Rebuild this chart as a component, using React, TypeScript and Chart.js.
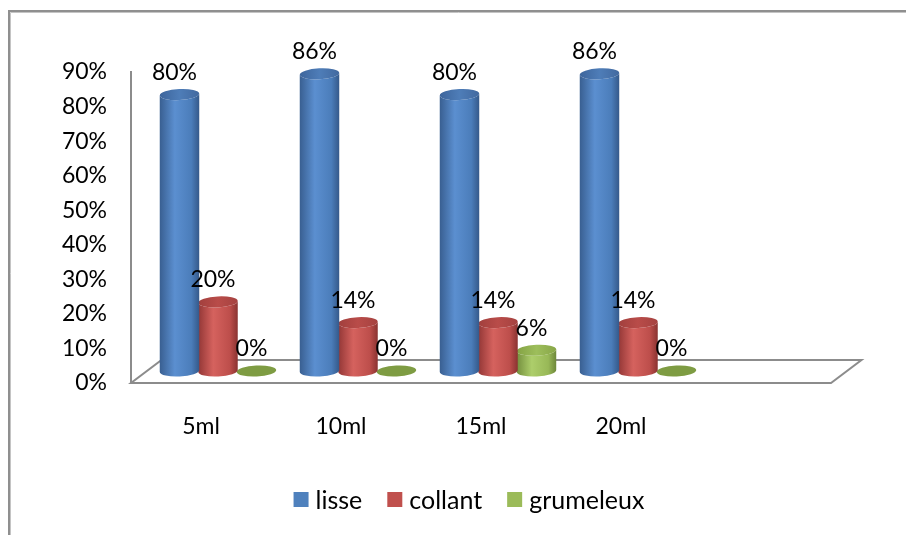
import { useEffect, useRef } from 'react';
import { Chart, registerables } from 'chart.js';

Chart.register(...registerables);

// Categories (the last, empty slot keeps the floor one step longer than the data)
const CATEGORIES = ['5ml', '10ml', '15ml', '20ml', ''];
const SERIES_NAMES = ['lisse', 'collant', 'grumeleux'];
const LISSE = [80, 86, 80, 86, null];
const COLLANT = [20, 14, 14, 14, null];
const GRUMELEUX = [0, 0, 6, 0, null];
const Y_MAX = 90;
const Y_STEP = 10;

const SERIES_COLORS = ['#4F81BD', '#C0504D', '#9BBB59'];

const FONT = 'Lato, "Open Sans", sans-serif';
const FLOOR_DEPTH = { x: 30.5, y: -23 };
const CYL_SHIFT = { x: 17, y: -12 };
const CYL_RY = 5.5;
const TILT = -0.05;

type Shade = { body: string[]; top: string[]; flat: string };
const SHADES: Shade[] = [
  { body: ['#395F91', '#5B8FD0', '#4B7DBA', '#35598A'], top: ['#3D659C', '#4E7DB8', '#42699F'], flat: '#3D659C' },
  { body: ['#933736', '#D5625E', '#BD4E4B', '#8A3331'], top: ['#A13F3D', '#B94C49', '#A54240'], flat: '#A13F3D' },
  { body: ['#748F3E', '#ADCE6B', '#98B857', '#6D873A'], top: ['#84A244', '#9DBE5B', '#88A648'], flat: '#7E9C43' },
];

function drawCylinder(ctx: CanvasRenderingContext2D, cx: number, topY: number, baseY: number, rx: number, shade: Shade) {
  if (baseY - topY < 0.5) {
    ctx.beginPath();
    ctx.ellipse(cx, baseY, rx, CYL_RY, TILT, 0, Math.PI * 2);
    ctx.fillStyle = shade.flat;
    ctx.fill();
    return;
  }
  const g = ctx.createLinearGradient(cx - rx, 0, cx + rx, 0);
  g.addColorStop(0, shade.body[0]);
  g.addColorStop(0.38, shade.body[1]);
  g.addColorStop(0.8, shade.body[2]);
  g.addColorStop(1, shade.body[3]);
  ctx.beginPath();
  ctx.moveTo(cx - rx, topY);
  ctx.lineTo(cx - rx, baseY);
  ctx.ellipse(cx, baseY, rx, CYL_RY, TILT, Math.PI, 0, true);
  ctx.lineTo(cx + rx, topY);
  ctx.ellipse(cx, topY, rx, CYL_RY, TILT, 0, Math.PI, false);
  ctx.closePath();
  ctx.fillStyle = g;
  ctx.fill();

  const t = ctx.createLinearGradient(cx - rx, 0, cx + rx, 0);
  t.addColorStop(0, shade.top[0]);
  t.addColorStop(0.5, shade.top[1]);
  t.addColorStop(1, shade.top[2]);
  ctx.beginPath();
  ctx.ellipse(cx, topY, rx, CYL_RY, TILT, 0, Math.PI * 2);
  ctx.fillStyle = t;
  ctx.fill();
}

const chartPlugin = {
  id: 'cylinders',
  beforeDraw(chart: any) {
    const { ctx, width, height } = chart;
    ctx.save();
    ctx.fillStyle = '#ffffff';
    ctx.fillRect(0, 0, width, height);
    // outer frame (extends past the right and bottom edges)
    ctx.strokeStyle = '#c4c4c4';
    ctx.lineWidth = 1;
    ctx.beginPath();
    ctx.moveTo(10.5, height);
    ctx.lineTo(10.5, 12.5);
    ctx.lineTo(width, 12.5);
    ctx.stroke();
    ctx.strokeStyle = '#8f8f8f';
    ctx.lineWidth = 2;
    ctx.beginPath();
    ctx.moveTo(9, height);
    ctx.lineTo(9, 11);
    ctx.lineTo(width, 11);
    ctx.stroke();
    ctx.restore();
  },
  beforeDatasetsDraw(chart: any) {
    const { ctx, chartArea } = chart;
    const { left, right, bottom } = chartArea;
    ctx.save();
    ctx.strokeStyle = '#8c8c8c';
    ctx.lineWidth = 2;
    ctx.lineJoin = 'miter';
    ctx.beginPath();
    ctx.moveTo(left, bottom);
    ctx.lineTo(right, bottom);
    ctx.lineTo(right + FLOOR_DEPTH.x, bottom + FLOOR_DEPTH.y);
    ctx.lineTo(left + FLOOR_DEPTH.x, bottom + FLOOR_DEPTH.y);
    ctx.closePath();
    ctx.stroke();
    ctx.restore();
  },
  beforeDatasetDraw(chart: any, args: any) {
    const { ctx } = chart;
    const meta = chart.getDatasetMeta(args.index);
    const shade = SHADES[args.index];
    ctx.save();
    meta.data.forEach((el: any, i: number) => {
      const v = chart.data.datasets[args.index].data[i];
      if (v === null || v === undefined) return;
      const cx = el.x + CYL_SHIFT.x;
      const topY = el.y + CYL_SHIFT.y;
      const baseY = el.base + CYL_SHIFT.y;
      drawCylinder(ctx, cx, topY, baseY, el.width / 2 + 0.5, shade);
    });
    ctx.restore();
    return false;
  },
  afterDatasetsDraw(chart: any) {
    const { ctx } = chart;
    ctx.save();
    ctx.font = `23px ${FONT}`;
    ctx.fillStyle = '#000000';
    ctx.textAlign = 'center';
    ctx.textBaseline = 'middle';
    chart.data.datasets.forEach((ds: any, di: number) => {
      const meta = chart.getDatasetMeta(di);
      meta.data.forEach((el: any, i: number) => {
        const v = ds.data[i];
        if (v === null || v === undefined) return;
        ctx.fillText(`${v}%`, el.x + CYL_SHIFT.x - 5, el.y + CYL_SHIFT.y - 22);
      });
    });
    ctx.restore();
  },
  afterDraw(chart: any) {
    // legend row
    const { ctx } = chart;
    ctx.save();
    ctx.font = `25px ${FONT}`;
    ctx.textBaseline = 'middle';
    ctx.textAlign = 'left';
    const box = 15;
    const gap = 7;
    const spacing = 25;
    const items = chart.data.datasets.map((ds: any) => ({
      label: ds.label as string,
      color: ds.backgroundColor as string,
      w: ctx.measureText(ds.label).width,
    }));
    const total = items.reduce((s: number, it: any) => s + box + gap + it.w, 0) + spacing * (items.length - 1);
    const cy = 499.5;
    let x = 469 - total / 2;
    items.forEach((it: any) => {
      ctx.fillStyle = it.color;
      ctx.fillRect(x, cy - box / 2, box, box);
      ctx.fillStyle = '#000000';
      ctx.fillText(it.label, x + box + gap, cy + 1);
      x += box + gap + it.w + spacing;
    });
    ctx.restore();
  },
};

export default function App() {
  const canvasRef = useRef<HTMLCanvasElement | null>(null);

  useEffect(() => {
    if (!canvasRef.current) return;
    const series = [LISSE, COLLANT, GRUMELEUX];
    const chart = new Chart(canvasRef.current, {
      type: 'bar',
      data: {
        labels: CATEGORIES,
        datasets: series.map((data, i) => ({
          label: SERIES_NAMES[i],
          data,
          backgroundColor: SERIES_COLORS[i],
          categoryPercentage: 0.825,
          barPercentage: 1,
        })),
      },
      options: {
        animation: false,
        responsive: true,
        maintainAspectRatio: false,
        layout: { padding: { top: 72, right: 75, bottom: 0, left: 0 } },
        plugins: {
          legend: { display: false },
          tooltip: { enabled: false },
        },
        scales: {
          x: {
            grid: { display: false, drawTicks: false },
            border: { display: false },
            ticks: { color: '#000000', font: { family: FONT, size: 23 }, padding: 30 },
            afterFit: (scale: any) => {
              scale.height = 152;
            },
          },
          y: {
            min: 0,
            max: Y_MAX,
            grid: { display: false, drawTicks: false },
            border: { display: true, color: '#8c8c8c', width: 2 },
            ticks: {
              stepSize: Y_STEP,
              color: '#000000',
              font: { family: FONT, size: 23 },
              padding: 24,
              callback: (v: any) => `${v}%`,
            },
            afterFit: (scale: any) => {
              scale.width = 131;
            },
          },
        },
      },
      plugins: [chartPlugin],
    });
    return () => chart.destroy();
  }, []);

  return (
    <div style={{ position: 'fixed', left: 0, top: 0, width: 906, height: 535, background: '#ffffff' }}>
      <canvas ref={canvasRef} />
    </div>
  );
}
